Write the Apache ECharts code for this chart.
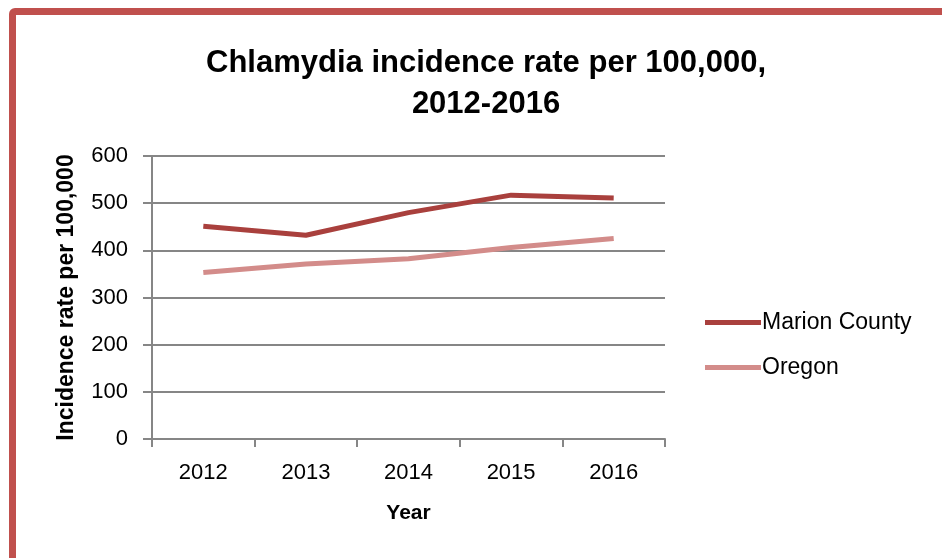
<!DOCTYPE html>
<html>
<head>
<meta charset="utf-8">
<script src="https://cdn.jsdelivr.net/npm/echarts@6/dist/echarts.min.js"></script>
<style>
  html, body { margin: 0; padding: 0; background: #fff; }
  #main { width: 942px; height: 558px; position: relative; }
  #frame {
    position: absolute; left: 9px; top: 8px; width: 1000px; height: 600px;
    border: 7px solid #C0504D; border-radius: 6px; box-sizing: border-box;
    pointer-events: none;
  }
</style>
</head>
<body>
<div id="main"></div>
<div id="frame"></div>
<script>
// 年份
var years = ["2012", "2013", "2014", "2015", "2016"];
// 每十万人发病率
var marion = [451, 432, 480, 517, 511];
var oregon = [353, 371, 382, 406, 425];
var seriesNames = ["Marion County", "Oregon"];

var fontFamily = "'Liberation Sans', Arial, sans-serif";
var gridColor = "#868686";

var myChart = echarts.init(document.getElementById("main"));
var option = {
	backgroundColor: "#fff",
	title: {
		text: "Chlamydia incidence rate per 100,000,\n2012-2016",
		left: 481,
		top: 38,
		textAlign: "center",
		textStyle: {
			fontFamily: fontFamily,
			fontSize: 31,
			fontWeight: "bold",
			color: "#000",
			lineHeight: 41,
			align: "center"
		}
	},
	legend: {
		orient: "vertical",
		left: 700,
		top: 306,
		itemWidth: 56,
		itemHeight: 5,
		itemGap: 22,
		icon: "rect",
		data: seriesNames,
		textStyle: {
			fontFamily: fontFamily,
			fontSize: 23,
			color: "#000",
			padding: [0, 0, 0, -4]
		}
	},
	grid: {
		left: 152,
		right: 277,
		top: 156,
		bottom: 119
	},
	xAxis: {
		type: "category",
		data: years,
		boundaryGap: true,
		name: "Year",
		nameLocation: "middle",
		nameGap: 64,
		nameTextStyle: {
			fontFamily: fontFamily,
			fontSize: 21,
			fontWeight: "bold",
			color: "#000"
		},
		axisLine: { lineStyle: { color: gridColor, width: 2 } },
		axisTick: { show: true, length: 8, lineStyle: { color: gridColor, width: 2 } },
		axisLabel: {
			margin: 23,
			fontFamily: fontFamily,
			fontSize: 22,
			color: "#000"
		}
	},
	yAxis: {
		type: "value",
		min: 0,
		max: 600,
		interval: 100,
		name: "Incidence rate per 100,000",
		nameLocation: "middle",
		nameGap: 74,
		nameTextStyle: {
			fontFamily: fontFamily,
			fontSize: 23,
			fontWeight: "bold",
			color: "#000"
		},
		axisLine: { show: true, lineStyle: { color: gridColor, width: 2 } },
		axisTick: { show: true, length: 9, lineStyle: { color: gridColor, width: 2 } },
		axisLabel: {
			margin: 24,
			fontFamily: fontFamily,
			fontSize: 22,
			color: "#000"
		},
		splitLine: { show: true, lineStyle: { color: gridColor, width: 2 } }
	},
	series: [
		{
			name: seriesNames[0],
			type: "line",
			data: marion,
			showSymbol: false,
			symbol: "none",
			lineStyle: { color: "#A9403D", width: 5 },
			itemStyle: { color: "#A9403D" }
		},
		{
			name: seriesNames[1],
			type: "line",
			data: oregon,
			showSymbol: false,
			symbol: "none",
			lineStyle: { color: "#D38C8A", width: 5 },
			itemStyle: { color: "#D38C8A" }
		}
	]
};
myChart.setOption(option);
</script>
</body>
</html>
